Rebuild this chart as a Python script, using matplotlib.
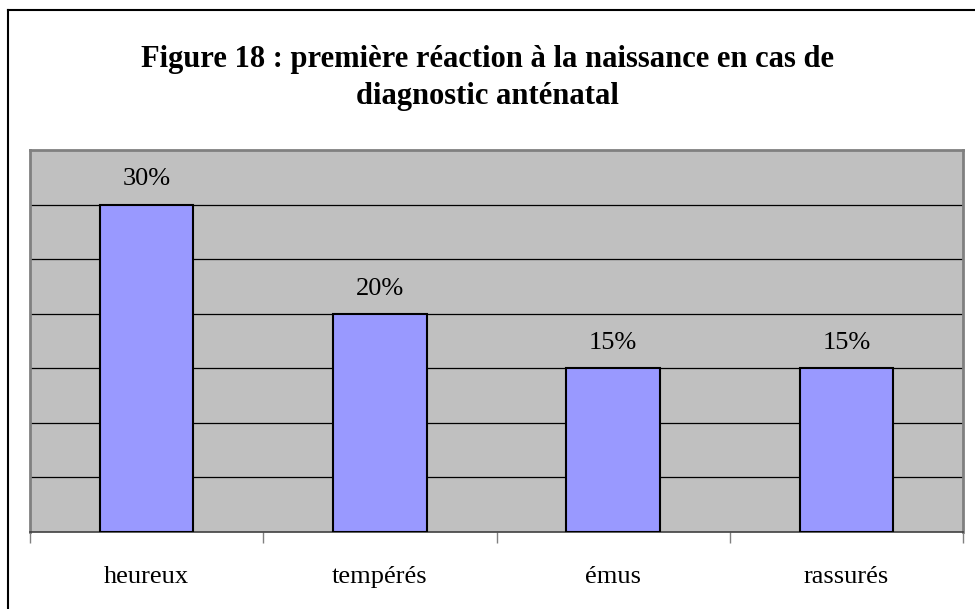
import matplotlib.pyplot as plt
from matplotlib.lines import Line2D
from matplotlib import font_manager

categories = ['heureux', 'tempérés', 'émus', 'rassurés']
values = [30, 20, 15, 15]
labels = ['30%', '20%', '15%', '15%']
title = 'Figure 18 : première réaction à la naissance en cas de\ndiagnostic anténatal'

plt.rcParams['font.family'] = 'serif'
plt.rcParams['font.serif'] = ['Liberation Serif', 'Times New Roman', 'DejaVu Serif']
print(font_manager.findfont('serif'))

fig = plt.figure(figsize=(9.75, 6.09), dpi=100)
W, H = 975, 609
ax = fig.add_axes([30 / W, (H - 532) / H, 933 / W, 382 / H])
ax.set_facecolor('#C0C0C0')

x = list(range(len(categories)))
ax.bar(x, values, width=0.40, color='#9999FF', edgecolor='black', linewidth=1.5, zorder=3)
for xi, v, lab in zip(x, values, labels):
    ax.text(xi, v + 2.3, lab, ha='center', va='center', fontsize=19, zorder=4)
    # category labels under the axis
for xi, cat in zip(x, categories):
    ax.text(xi, -4.1, cat, ha='center', va='center', fontsize=19, clip_on=False)

ax.set_xlim(-0.5, len(categories) - 0.5)
ax.set_ylim(0, 35)
ax.set_yticks(range(5, 35, 5))
ax.tick_params(axis='y', length=0, labelleft=False)
ax.yaxis.grid(True, color='black', linewidth=0.9, zorder=1)
ax.set_axisbelow(True)

# ticks at category boundaries
ax.set_xticks([i - 0.5 for i in range(len(categories) + 1)])
ax.set_xticklabels([])
ax.tick_params(axis='x', length=8, width=1, color='#808080', direction='out')

for s in ['left', 'top', 'right']:
    ax.spines[s].set_color('#808080')
    ax.spines[s].set_linewidth(2)
ax.spines['bottom'].set_color('#404040')
ax.spines['bottom'].set_linewidth(1.2)

fig.text(0.5, 1 - 78 / H, title, ha='center', va='center', fontsize=22, fontweight='bold',
         linespacing=1.35)

# outer frame lines (left and top)
fig.add_artist(Line2D([8 / W, 8 / W], [0, 1 - 10 / H], color='black', linewidth=1.5))
fig.add_artist(Line2D([8 / W, 1], [1 - 10 / H, 1 - 10 / H], color='black', linewidth=1.5))

fig.savefig('out.png', dpi=100)
